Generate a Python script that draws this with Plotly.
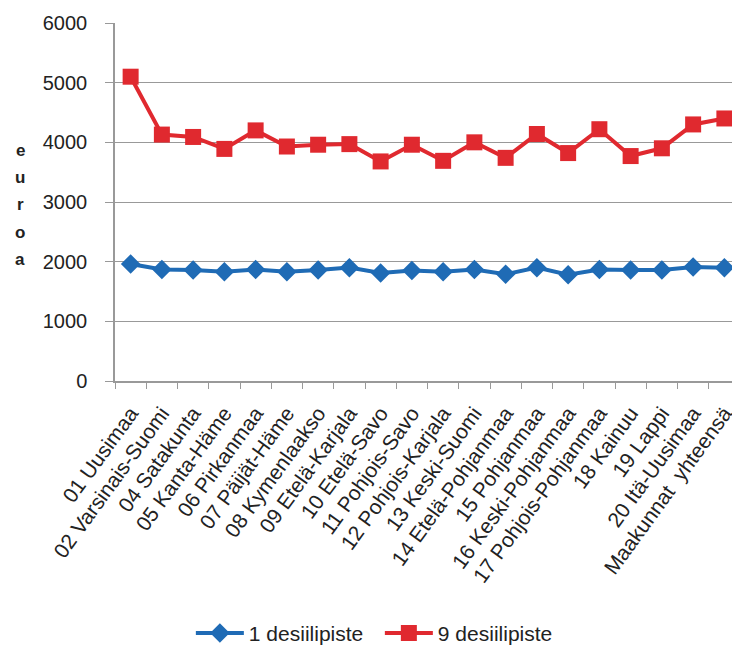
import plotly.graph_objects as go

categories = ["01 Uusimaa", "02 Varsinais-Suomi", "04 Satakunta", "05 Kanta-Häme",
              "06 Pirkanmaa", "07 Päijät-Häme", "08 Kymenlaakso", "09 Etelä-Karjala",
              "10 Etelä-Savo", "11 Pohjois-Savo", "12 Pohjois-Karjala", "13 Keski-Suomi",
              "14 Etelä-Pohjanmaa", "15 Pohjanmaa", "16 Keski-Pohjanmaa",
              "17 Pohjois-Pohjanmaa", "18 Kainuu", "19 Lappi", "20 Itä-Uusimaa",
              "Maakunnat  yhteensä"]
d1 = [1960, 1870, 1860, 1830, 1870, 1830, 1860, 1900, 1810, 1850,
      1830, 1870, 1790, 1900, 1780, 1870, 1860, 1860, 1910, 1900]
d9 = [5100, 4130, 4090, 3890, 4200, 3930, 3960, 3970, 3680, 3960,
      3690, 4000, 3740, 4140, 3820, 4220, 3770, 3900, 4300, 4400]
y_ticks = [0, 1000, 2000, 3000, 4000, 5000, 6000]
axis_title_letters = ["e", "u", "r", "o", "a"]

FONT = "Liberation Sans, Arial, sans-serif"
BLUE = "#1F6BB5"
RED = "#E0292F"

fig = go.Figure()
fig.add_trace(go.Scatter(x=categories, y=d1, name="1 desiilipiste", mode="lines+markers",
                         line=dict(color=BLUE, width=4),
                         marker=dict(symbol="diamond", size=15, color=BLUE)))
fig.add_trace(go.Scatter(x=categories, y=d9, name="9 desiilipiste", mode="lines+markers",
                         line=dict(color=RED, width=4),
                         marker=dict(symbol="square", size=16, color=RED)))

fig.update_layout(
    width=732, height=640,
    margin=dict(l=107, r=0, t=15, b=267),
    paper_bgcolor="white", plot_bgcolor="white",
    font=dict(family=FONT, size=19, color="#222"),
    showlegend=True,
    legend=dict(orientation="h", xref="container", yref="container",
                x=0.508, xanchor="center", y=0.023, yanchor="middle",
                font=dict(family=FONT, size=21, color="#222"),
                itemwidth=48, entrywidth=126, entrywidthmode="pixels",
                bgcolor="rgba(0,0,0,0)"),
    xaxis=dict(type="category", range=[-0.5, len(categories) - 0.5],
               tickangle=-54, tickson="boundaries",
               ticks="outside", ticklen=6, tickcolor="#999",
               showline=True, linecolor="#999", linewidth=1.5,
               showgrid=False, tickfont=dict(size=21, color="#222"),
               ticklabelstandoff=10),
    yaxis=dict(range=[0, 6000], tickvals=y_ticks, ticks="outside", ticklen=8,
               tickcolor="#999", showline=True, linecolor="#999", linewidth=1.5,
               showgrid=True, gridcolor="#999", gridwidth=1.2, zeroline=False,
               tickfont=dict(size=20, color="#222"), ticklabelstandoff=14),
)

for i, ch in enumerate(axis_title_letters):
    fig.add_annotation(text=ch, xref="paper", yref="paper",
                       x=-0.152, y=0.645 - i * 0.0765, xanchor="center", yanchor="middle",
                       showarrow=False,
                       font=dict(family=FONT, size=17, color="#222", weight="bold"))

fig.write_html("out.html")
